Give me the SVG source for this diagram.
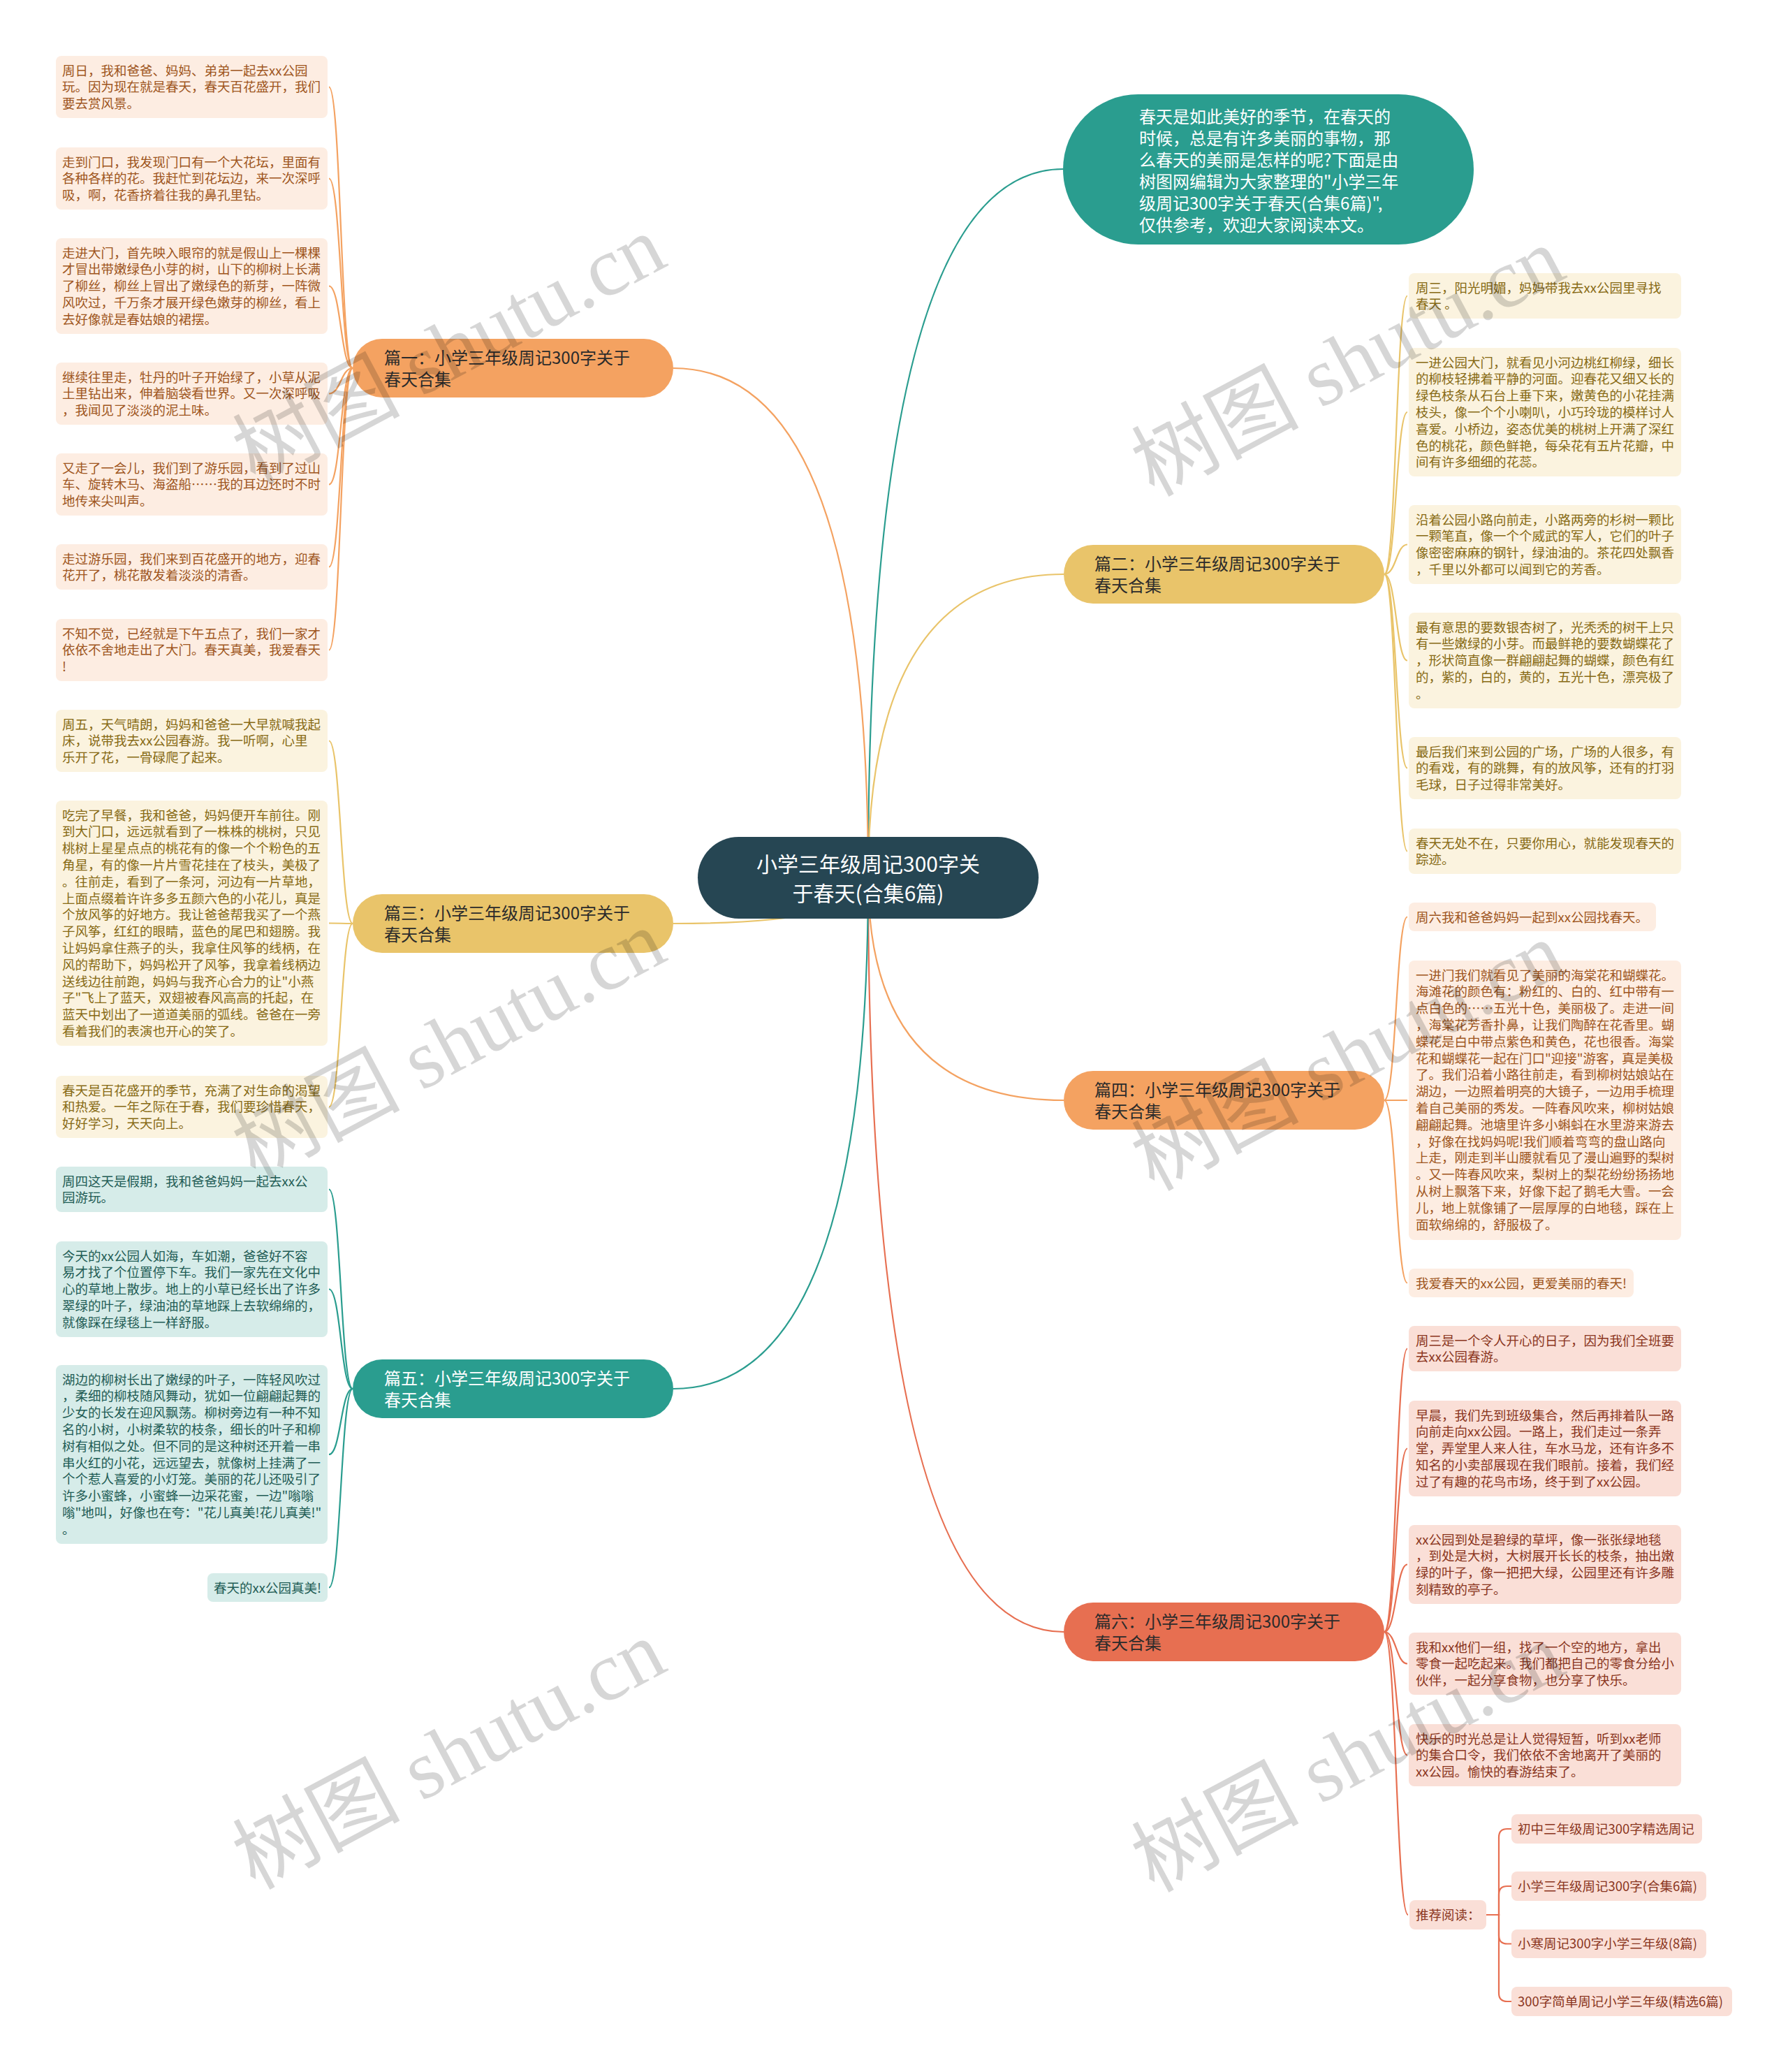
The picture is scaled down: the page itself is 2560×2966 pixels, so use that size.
<svg xmlns="http://www.w3.org/2000/svg" width="2560" height="2966" viewBox="0 0 2560 2966">
<style>
text{font-family:"Noto Sans CJK SC","Noto Sans",sans-serif}
.lt{font-size:18.5px}
.bt{font-size:24px;fill:#2b2b2b}
.wt{fill:#ffffff}
.fo{fill:#FDEDE2}.co{fill:#9E5520}
.fy{fill:#FBF3DF}.cy{fill:#876A14}
.ft{fill:#D6ECE9}.ct{fill:#1F5C55}
.fr{fill:#FADFD7}.cr{fill:#8A3520}
.so{stroke:#F4A261}.sy{stroke:#E9C46A}.st{stroke:#2A9D8F}.sr{stroke:#E76F51}
#connectors path{fill:none;stroke-width:2.2}
.wm{font-family:"Liberation Serif","Noto Sans CJK SC",serif;font-size:120px;fill:#000;fill-opacity:0.16}
</style>
<rect width="2560" height="2966" fill="#ffffff"/>
<g id="connectors">
<path class="st" d="M1243 1256 Q1243 242 1522 242"/>
<path class="sy" d="M1243 1256 Q1243 822 1523 822"/>
<path class="so" d="M1243 1256 Q1243 1575 1523 1575"/>
<path class="sr" d="M1243 1256 Q1243 2336 1523 2336"/>
<path class="so" d="M1243 1256 Q1243 527 964 527"/>
<path class="sy" d="M1243 1256 Q1243 1322 964 1322"/>
<path class="st" d="M1243 1256 Q1243 1988 964 1988"/>
<path class="so" d="M505 527 C488 527 488 124.5 471 124.5"/>
<path class="so" d="M505 527 C488 527 488 255.5 471 255.5"/>
<path class="so" d="M505 527 C488 527 488 409.5 471 409.5"/>
<path class="so" d="M505 527 C488 527 488 563.5 471 563.5"/>
<path class="so" d="M505 527 C488 527 488 693.5 471 693.5"/>
<path class="so" d="M505 527 C488 527 488 811.5 471 811.5"/>
<path class="so" d="M505 527 C488 527 488 930.5 471 930.5"/>
<path class="sy" d="M505 1322 C488 1322 488 1060.5 471 1060.5"/>
<path class="sy" d="M505 1322 C488 1322 488 1321.5 471 1321.5"/>
<path class="sy" d="M505 1322 C488 1322 488 1584.5 471 1584.5"/>
<path class="st" d="M505 1988 C488 1988 488 1702.5 471 1702.5"/>
<path class="st" d="M505 1988 C488 1988 488 1845.5 471 1845.5"/>
<path class="st" d="M505 1988 C488 1988 488 2082 471 2082"/>
<path class="st" d="M505 1988 C488 1988 488 2272.5 471 2272.5"/>
<path class="sy" d="M1982 822 C1999 822 1999 423.5 2015 423.5"/>
<path class="sy" d="M1982 822 C1999 822 1999 590 2015 590"/>
<path class="sy" d="M1982 822 C1999 822 1999 779.5 2015 779.5"/>
<path class="sy" d="M1982 822 C1999 822 1999 945.5 2015 945.5"/>
<path class="sy" d="M1982 822 C1999 822 1999 1099.5 2015 1099.5"/>
<path class="sy" d="M1982 822 C1999 822 1999 1218.5 2015 1218.5"/>
<path class="so" d="M1982 1575 C1999 1575 1999 1312.5 2015 1312.5"/>
<path class="so" d="M1982 1575 C1999 1575 1999 1575 2015 1575"/>
<path class="so" d="M1982 1575 C1999 1575 1999 1836.5 2015 1836.5"/>
<path class="sr" d="M1982 2336 C1999 2336 1999 1930.5 2015 1930.5"/>
<path class="sr" d="M1982 2336 C1999 2336 1999 2073.5 2015 2073.5"/>
<path class="sr" d="M1982 2336 C1999 2336 1999 2239.5 2015 2239.5"/>
<path class="sr" d="M1982 2336 C1999 2336 1999 2381.5 2015 2381.5"/>
<path class="sr" d="M1982 2336 C1999 2336 1999 2512.5 2015 2512.5"/>
<path class="sr" d="M1982 2336 C1999 2336 1999 2741 2016 2741"/>
<path class="sr" d="M2128 2741 H2146 V2630 Q2146 2618 2158 2618 H2164"/>
<path class="sr" d="M2128 2741 H2146 V2712 Q2146 2700 2158 2700 H2164"/>
<path class="sr" d="M2128 2741 H2146 V2770.5 Q2146 2782.5 2158 2782.5 H2164"/>
<path class="sr" d="M2128 2741 H2146 V2853 Q2146 2865 2158 2865 H2164"/>
</g>

<g id="center">
<rect x="999" y="1198" width="488" height="117" rx="58.5" fill="#264653"/>
<text x="1243" y="1248" text-anchor="middle" font-size="30" class="wt">小学三年级周记300字关</text>
<text x="1243" y="1290" text-anchor="middle" font-size="30" class="wt">于春天(合集6篇)</text>
</g>

<g id="intro">
<rect x="1522" y="135" width="588" height="215" rx="107.5" fill="#2A9D8F"/>
<text x="1631" y="176" font-size="24" class="wt">
<tspan x="1631">春天是如此美好的季节，在春天的</tspan>
<tspan x="1631" dy="31">时候，总是有许多美丽的事物，那</tspan>
<tspan x="1631" dy="31">么春天的美丽是怎样的呢?下面是由</tspan>
<tspan x="1631" dy="31">树图网编辑为大家整理的"小学三年</tspan>
<tspan x="1631" dy="31">级周记300字关于春天(合集6篇)",</tspan>
<tspan x="1631" dy="31">仅供参考，欢迎大家阅读本文。</tspan>
</text>
</g>

<g id="branch1">
<rect x="505" y="485" width="459" height="84" rx="42" fill="#F4A261"/>
<text x="550" y="520.5" class="bt"><tspan x="550">篇一：小学三年级周记300字关于</tspan><tspan x="550" dy="31">春天合集</tspan></text>
</g>
<g id="branch3">
<rect x="505" y="1280" width="459" height="84" rx="42" fill="#E9C46A"/>
<text x="550" y="1315.5" class="bt"><tspan x="550">篇三：小学三年级周记300字关于</tspan><tspan x="550" dy="31">春天合集</tspan></text>
</g>
<g id="branch5">
<rect x="505" y="1946" width="459" height="84" rx="42" fill="#2A9D8F"/>
<text x="550" y="1981.5" class="bt wt"><tspan x="550">篇五：小学三年级周记300字关于</tspan><tspan x="550" dy="31">春天合集</tspan></text>
</g>
<g id="branch2">
<rect x="1523" y="780" width="459" height="84" rx="42" fill="#E9C46A"/>
<text x="1567" y="815.5" class="bt"><tspan x="1567">篇二：小学三年级周记300字关于</tspan><tspan x="1567" dy="31">春天合集</tspan></text>
</g>
<g id="branch4">
<rect x="1523" y="1533" width="459" height="84" rx="42" fill="#F4A261"/>
<text x="1567" y="1568.5" class="bt"><tspan x="1567">篇四：小学三年级周记300字关于</tspan><tspan x="1567" dy="31">春天合集</tspan></text>
</g>
<g id="branch6">
<rect x="1523" y="2294" width="459" height="84" rx="42" fill="#E76F51"/>
<text x="1567" y="2329.5" class="bt"><tspan x="1567">篇六：小学三年级周记300字关于</tspan><tspan x="1567" dy="31">春天合集</tspan></text>
</g>

<g id="b1-leaf1"><rect x="80" y="80" width="389" height="89" rx="8" class="fo"/>
<text x="89" y="107.5" class="lt co"><tspan x="89">周日，我和爸爸、妈妈、弟弟一起去xx公园</tspan><tspan x="89" dy="23.8">玩。因为现在就是春天，春天百花盛开，我们</tspan><tspan x="89" dy="23.8">要去赏风景。</tspan></text></g>
<g id="b1-leaf2"><rect x="80" y="211" width="389" height="89" rx="8" class="fo"/>
<text x="89" y="238.5" class="lt co"><tspan x="89">走到门口，我发现门口有一个大花坛，里面有</tspan><tspan x="89" dy="23.8">各种各样的花。我赶忙到花坛边，来一次深呼</tspan><tspan x="89" dy="23.8">吸，啊，花香挤着往我的鼻孔里钻。</tspan></text></g>
<g id="b1-leaf3"><rect x="80" y="341" width="389" height="137" rx="8" class="fo"/>
<text x="89" y="368.5" class="lt co"><tspan x="89">走进大门，首先映入眼帘的就是假山上一棵棵</tspan><tspan x="89" dy="23.8">才冒出带嫩绿色小芽的树，山下的柳树上长满</tspan><tspan x="89" dy="23.8">了柳丝，柳丝上冒出了嫩绿色的新芽，一阵微</tspan><tspan x="89" dy="23.8">风吹过，千万条才展开绿色嫩芽的柳丝，看上</tspan><tspan x="89" dy="23.8">去好像就是春姑娘的裙摆。</tspan></text></g>
<g id="b1-leaf4"><rect x="80" y="519" width="389" height="89" rx="8" class="fo"/>
<text x="89" y="546.5" class="lt co"><tspan x="89">继续往里走，牡丹的叶子开始绿了，小草从泥</tspan><tspan x="89" dy="23.8">土里钻出来，伸着脑袋看世界。又一次深呼吸</tspan><tspan x="89" dy="23.8">，我闻见了淡淡的泥土味。</tspan></text></g>
<g id="b1-leaf5"><rect x="80" y="649" width="389" height="89" rx="8" class="fo"/>
<text x="89" y="676.5" class="lt co"><tspan x="89">又走了一会儿，我们到了游乐园，看到了过山</tspan><tspan x="89" dy="23.8">车、旋转木马、海盗船……我的耳边还时不时</tspan><tspan x="89" dy="23.8">地传来尖叫声。</tspan></text></g>
<g id="b1-leaf6"><rect x="80" y="779" width="389" height="65" rx="8" class="fo"/>
<text x="89" y="806.5" class="lt co"><tspan x="89">走过游乐园，我们来到百花盛开的地方，迎春</tspan><tspan x="89" dy="23.8">花开了，桃花散发着淡淡的清香。</tspan></text></g>
<g id="b1-leaf7"><rect x="80" y="886" width="389" height="89" rx="8" class="fo"/>
<text x="89" y="913.5" class="lt co"><tspan x="89">不知不觉，已经就是下午五点了，我们一家才</tspan><tspan x="89" dy="23.8">依依不舍地走出了大门。春天真美，我爱春天</tspan><tspan x="89" dy="23.8">!</tspan></text></g>

<g id="b3-leaf1"><rect x="80" y="1016" width="389" height="89" rx="8" class="fy"/>
<text x="89" y="1043.5" class="lt cy"><tspan x="89">周五，天气晴朗，妈妈和爸爸一大早就喊我起</tspan><tspan x="89" dy="23.8">床，说带我去xx公园春游。我一听啊，心里</tspan><tspan x="89" dy="23.8">乐开了花，一骨碌爬了起来。</tspan></text></g>
<g id="b3-leaf2"><rect x="80" y="1146" width="389" height="351" rx="8" class="fy"/>
<text x="89" y="1173.5" class="lt cy"><tspan x="89">吃完了早餐，我和爸爸，妈妈便开车前往。刚</tspan><tspan x="89" dy="23.8">到大门口，远远就看到了一株株的桃树，只见</tspan><tspan x="89" dy="23.8">桃树上星星点点的桃花有的像一个个粉色的五</tspan><tspan x="89" dy="23.8">角星，有的像一片片雪花挂在了枝头，美极了</tspan><tspan x="89" dy="23.8">。往前走，看到了一条河，河边有一片草地，</tspan><tspan x="89" dy="23.8">上面点缀着许许多多五颜六色的小花儿，真是</tspan><tspan x="89" dy="23.8">个放风筝的好地方。我让爸爸帮我买了一个燕</tspan><tspan x="89" dy="23.8">子风筝，红红的眼睛，蓝色的尾巴和翅膀。我</tspan><tspan x="89" dy="23.8">让妈妈拿住燕子的头，我拿住风筝的线柄，在</tspan><tspan x="89" dy="23.8">风的帮助下，妈妈松开了风筝，我拿着线柄边</tspan><tspan x="89" dy="23.8">送线边往前跑，妈妈与我齐心合力的让"小燕</tspan><tspan x="89" dy="23.8">子"飞上了蓝天，双翅被春风高高的托起，在</tspan><tspan x="89" dy="23.8">蓝天中划出了一道道美丽的弧线。爸爸在一旁</tspan><tspan x="89" dy="23.8">看着我们的表演也开心的笑了。</tspan></text></g>
<g id="b3-leaf3"><rect x="80" y="1540" width="389" height="89" rx="8" class="fy"/>
<text x="89" y="1567.5" class="lt cy"><tspan x="89">春天是百花盛开的季节，充满了对生命的渴望</tspan><tspan x="89" dy="23.8">和热爱。一年之际在于春，我们要珍惜春天，</tspan><tspan x="89" dy="23.8">好好学习，天天向上。</tspan></text></g>

<g id="b5-leaf1"><rect x="80" y="1670" width="389" height="65" rx="8" class="ft"/>
<text x="89" y="1697.5" class="lt ct"><tspan x="89">周四这天是假期，我和爸爸妈妈一起去xx公</tspan><tspan x="89" dy="23.8">园游玩。</tspan></text></g>
<g id="b5-leaf2"><rect x="80" y="1777" width="389" height="137" rx="8" class="ft"/>
<text x="89" y="1804.5" class="lt ct"><tspan x="89">今天的xx公园人如海，车如潮，爸爸好不容</tspan><tspan x="89" dy="23.8">易才找了个位置停下车。我们一家先在文化中</tspan><tspan x="89" dy="23.8">心的草地上散步。地上的小草已经长出了许多</tspan><tspan x="89" dy="23.8">翠绿的叶子，绿油油的草地踩上去软绵绵的，</tspan><tspan x="89" dy="23.8">就像踩在绿毯上一样舒服。</tspan></text></g>
<g id="b5-leaf3"><rect x="80" y="1954" width="389" height="256" rx="8" class="ft"/>
<text x="89" y="1981.5" class="lt ct"><tspan x="89">湖边的柳树长出了嫩绿的叶子，一阵轻风吹过</tspan><tspan x="89" dy="23.8">，柔细的柳枝随风舞动，犹如一位翩翩起舞的</tspan><tspan x="89" dy="23.8">少女的长发在迎风飘荡。柳树旁边有一种不知</tspan><tspan x="89" dy="23.8">名的小树，小树柔软的枝条，细长的叶子和柳</tspan><tspan x="89" dy="23.8">树有相似之处。但不同的是这种树还开着一串</tspan><tspan x="89" dy="23.8">串火红的小花，远远望去，就像树上挂满了一</tspan><tspan x="89" dy="23.8">个个惹人喜爱的小灯笼。美丽的花儿还吸引了</tspan><tspan x="89" dy="23.8">许多小蜜蜂，小蜜蜂一边采花蜜，一边"嗡嗡</tspan><tspan x="89" dy="23.8">嗡"地叫，好像也在夸："花儿真美!花儿真美!"</tspan><tspan x="89" dy="23.8">。</tspan></text></g>
<g id="b5-leaf4"><rect x="297" y="2252" width="172" height="41" rx="8" class="ft"/>
<text x="306" y="2279.5" class="lt ct">春天的xx公园真美!</text></g>

<g id="b2-leaf1"><rect x="2017" y="391" width="390" height="65" rx="8" class="fy"/>
<text x="2027" y="418.5" class="lt cy"><tspan x="2027">周三，阳光明媚，妈妈带我去xx公园里寻找</tspan><tspan x="2027" dy="23.8">春天 。</tspan></text></g>
<g id="b2-leaf2"><rect x="2017" y="498" width="390" height="184" rx="8" class="fy"/>
<text x="2027" y="525.5" class="lt cy"><tspan x="2027">一进公园大门，就看见小河边桃红柳绿，细长</tspan><tspan x="2027" dy="23.8">的柳枝轻拂着平静的河面。迎春花又细又长的</tspan><tspan x="2027" dy="23.8">绿色枝条从石台上垂下来，嫩黄色的小花挂满</tspan><tspan x="2027" dy="23.8">枝头，像一个个小喇叭，小巧玲珑的模样讨人</tspan><tspan x="2027" dy="23.8">喜爱。小桥边，姿态优美的桃树上开满了深红</tspan><tspan x="2027" dy="23.8">色的桃花，颜色鲜艳，每朵花有五片花瓣，中</tspan><tspan x="2027" dy="23.8">间有许多细细的花蕊。</tspan></text></g>
<g id="b2-leaf3"><rect x="2017" y="723" width="390" height="113" rx="8" class="fy"/>
<text x="2027" y="750.5" class="lt cy"><tspan x="2027">沿着公园小路向前走，小路两旁的杉树一颗比</tspan><tspan x="2027" dy="23.8">一颗笔直，像一个个威武的军人，它们的叶子</tspan><tspan x="2027" dy="23.8">像密密麻麻的钢针，绿油油的。茶花四处飘香</tspan><tspan x="2027" dy="23.8">，千里以外都可以闻到它的芳香。</tspan></text></g>
<g id="b2-leaf4"><rect x="2017" y="877" width="390" height="137" rx="8" class="fy"/>
<text x="2027" y="904.5" class="lt cy"><tspan x="2027">最有意思的要数银杏树了，光秃秃的树干上只</tspan><tspan x="2027" dy="23.8">有一些嫩绿的小芽。而最鲜艳的要数蝴蝶花了</tspan><tspan x="2027" dy="23.8">，形状简直像一群翩翩起舞的蝴蝶，颜色有红</tspan><tspan x="2027" dy="23.8">的，紫的，白的，黄的，五光十色，漂亮极了</tspan><tspan x="2027" dy="23.8">。</tspan></text></g>
<g id="b2-leaf5"><rect x="2017" y="1055" width="390" height="89" rx="8" class="fy"/>
<text x="2027" y="1082.5" class="lt cy"><tspan x="2027">最后我们来到公园的广场，广场的人很多，有</tspan><tspan x="2027" dy="23.8">的看戏，有的跳舞，有的放风筝，还有的打羽</tspan><tspan x="2027" dy="23.8">毛球，日子过得非常美好。</tspan></text></g>
<g id="b2-leaf6"><rect x="2017" y="1186" width="390" height="65" rx="8" class="fy"/>
<text x="2027" y="1213.5" class="lt cy"><tspan x="2027">春天无处不在，只要你用心，就能发现春天的</tspan><tspan x="2027" dy="23.8">踪迹。</tspan></text></g>

<g id="b4-leaf1"><rect x="2017" y="1292" width="354" height="41" rx="8" class="fo"/>
<text x="2027" y="1319.5" class="lt co">周六我和爸爸妈妈一起到xx公园找春天。</text></g>
<g id="b4-leaf2"><rect x="2017" y="1375" width="390" height="400" rx="8" class="fo"/>
<text x="2027" y="1402.5" class="lt co"><tspan x="2027">一进门我们就看见了美丽的海棠花和蝴蝶花。</tspan><tspan x="2027" dy="23.8">海滩花的颜色有：粉红的、白的、红中带有一</tspan><tspan x="2027" dy="23.8">点白色的……五光十色，美丽极了。走进一间</tspan><tspan x="2027" dy="23.8">，海棠花芳香扑鼻，让我们陶醉在花香里。蝴</tspan><tspan x="2027" dy="23.8">蝶花是白中带点紫色和黄色，花也很香。海棠</tspan><tspan x="2027" dy="23.8">花和蝴蝶花一起在门口"迎接"游客，真是美极</tspan><tspan x="2027" dy="23.8">了。我们沿着小路往前走，看到柳树姑娘站在</tspan><tspan x="2027" dy="23.8">湖边，一边照着明亮的大镜子，一边用手梳理</tspan><tspan x="2027" dy="23.8">着自己美丽的秀发。一阵春风吹来，柳树姑娘</tspan><tspan x="2027" dy="23.8">翩翩起舞。池塘里许多小蝌蚪在水里游来游去</tspan><tspan x="2027" dy="23.8">，好像在找妈妈呢!我们顺着弯弯的盘山路向</tspan><tspan x="2027" dy="23.8">上走，刚走到半山腰就看见了漫山遍野的梨树</tspan><tspan x="2027" dy="23.8">。又一阵春风吹来，梨树上的梨花纷纷扬扬地</tspan><tspan x="2027" dy="23.8">从树上飘落下来，好像下起了鹅毛大雪。一会</tspan><tspan x="2027" dy="23.8">儿，地上就像铺了一层厚厚的白地毯，踩在上</tspan><tspan x="2027" dy="23.8">面软绵绵的，舒服极了。</tspan></text></g>
<g id="b4-leaf3"><rect x="2017" y="1816" width="322" height="41" rx="8" class="fo"/>
<text x="2027" y="1843.5" class="lt co">我爱春天的xx公园，更爱美丽的春天!</text></g>

<g id="b6-leaf1"><rect x="2017" y="1898" width="390" height="65" rx="8" class="fr"/>
<text x="2027" y="1925.5" class="lt cr"><tspan x="2027">周三是一个令人开心的日子，因为我们全班要</tspan><tspan x="2027" dy="23.8">去xx公园春游。</tspan></text></g>
<g id="b6-leaf2"><rect x="2017" y="2005" width="390" height="137" rx="8" class="fr"/>
<text x="2027" y="2032.5" class="lt cr"><tspan x="2027">早晨，我们先到班级集合，然后再排着队一路</tspan><tspan x="2027" dy="23.8">向前走向xx公园。一路上，我们走过一条弄</tspan><tspan x="2027" dy="23.8">堂，弄堂里人来人往，车水马龙，还有许多不</tspan><tspan x="2027" dy="23.8">知名的小卖部展现在我们眼前。接着，我们经</tspan><tspan x="2027" dy="23.8">过了有趣的花鸟市场，终于到了xx公园。</tspan></text></g>
<g id="b6-leaf3"><rect x="2017" y="2183" width="390" height="113" rx="8" class="fr"/>
<text x="2027" y="2210.5" class="lt cr"><tspan x="2027">xx公园到处是碧绿的草坪，像一张张绿地毯</tspan><tspan x="2027" dy="23.8">，到处是大树，大树展开长长的枝条，抽出嫩</tspan><tspan x="2027" dy="23.8">绿的叶子，像一把把大绿，公园里还有许多雕</tspan><tspan x="2027" dy="23.8">刻精致的亭子。</tspan></text></g>
<g id="b6-leaf4"><rect x="2017" y="2337" width="390" height="89" rx="8" class="fr"/>
<text x="2027" y="2364.5" class="lt cr"><tspan x="2027">我和xx他们一组，找了一个空的地方，拿出</tspan><tspan x="2027" dy="23.8">零食一起吃起来。我们都把自己的零食分给小</tspan><tspan x="2027" dy="23.8">伙伴，一起分享食物，也分享了快乐。</tspan></text></g>
<g id="b6-leaf5"><rect x="2017" y="2468" width="390" height="89" rx="8" class="fr"/>
<text x="2027" y="2495.5" class="lt cr"><tspan x="2027">快乐的时光总是让人觉得短暂，听到xx老师</tspan><tspan x="2027" dy="23.8">的集合口令，我们依依不舍地离开了美丽的</tspan><tspan x="2027" dy="23.8">xx公园。愉快的春游结束了。</tspan></text></g>
<g id="b6-recommend"><rect x="2018" y="2720" width="110" height="42" rx="8" class="fr"/>
<text x="2027" y="2747.5" class="lt cr">推荐阅读：</text></g>
<g id="rec1"><rect x="2164" y="2597" width="273" height="42" rx="8" class="fr"/>
<text x="2173" y="2624.5" class="lt cr">初中三年级周记300字精选周记</text></g>
<g id="rec2"><rect x="2164" y="2679" width="279" height="42" rx="8" class="fr"/>
<text x="2173" y="2706.5" class="lt cr">小学三年级周记300字(合集6篇)</text></g>
<g id="rec3"><rect x="2164" y="2762" width="279" height="41" rx="8" class="fr"/>
<text x="2173" y="2789" class="lt cr">小寒周记300字小学三年级(8篇)</text></g>
<g id="rec4"><rect x="2164" y="2844" width="316" height="42" rx="8" class="fr"/>
<text x="2173" y="2871.5" class="lt cr">300字简单周记小学三年级(精选6篇)</text></g>

<g id="watermarks">
<text class="wm" text-anchor="middle" dominant-baseline="central" transform="translate(643 501) rotate(-28)">树图 shutu.cn</text>
<text class="wm" text-anchor="middle" dominant-baseline="central" transform="translate(1930 518) rotate(-28)">树图 shutu.cn</text>
<text class="wm" text-anchor="middle" dominant-baseline="central" transform="translate(643 1495) rotate(-28)">树图 shutu.cn</text>
<text class="wm" text-anchor="middle" dominant-baseline="central" transform="translate(1930 1512) rotate(-28)">树图 shutu.cn</text>
<text class="wm" text-anchor="middle" dominant-baseline="central" transform="translate(643 2512) rotate(-28)">树图 shutu.cn</text>
<text class="wm" text-anchor="middle" dominant-baseline="central" transform="translate(1930 2516) rotate(-28)">树图 shutu.cn</text>
</g>
</svg>
